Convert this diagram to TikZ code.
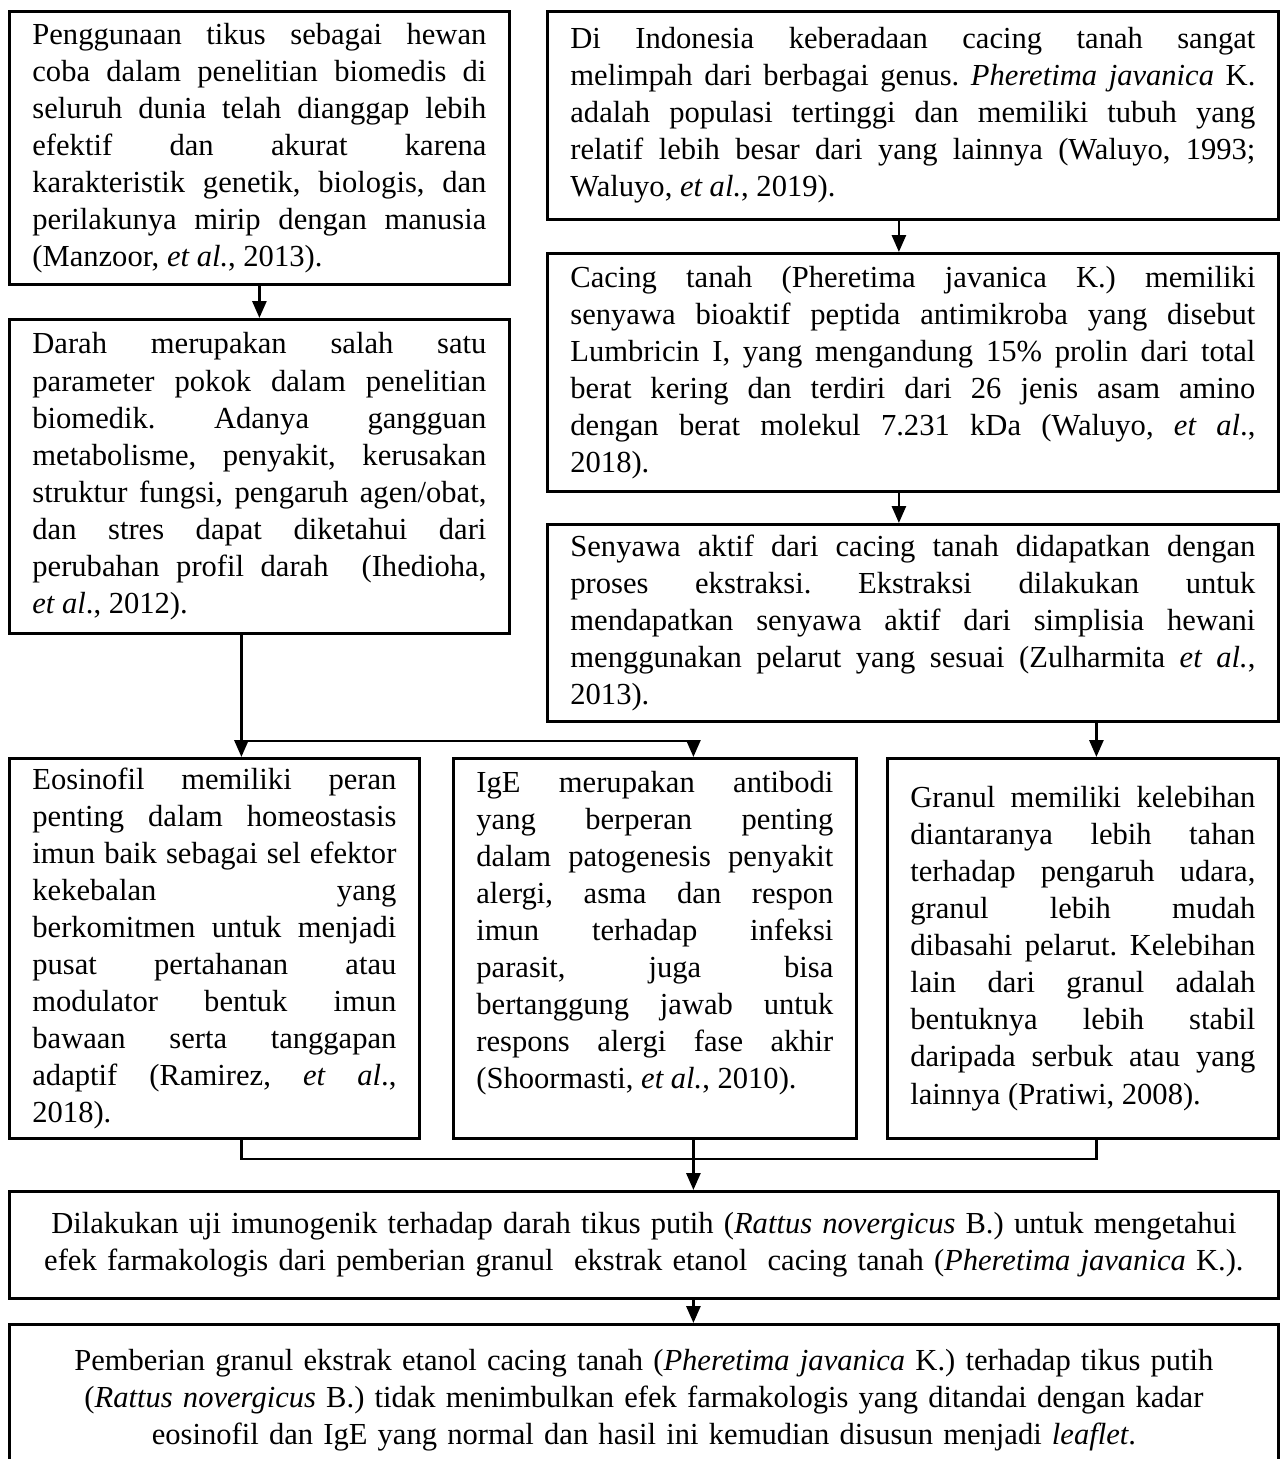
\documentclass[tikz,border=0pt]{standalone}
\usepackage{fontspec}
\setmainfont{Liberation Serif}
\usetikzlibrary{arrows.meta,calc}

\newcommand{\isi}{\fontsize{17.4}{21.1}\selectfont\frenchspacing\parindent=0pt\hyphenpenalty=10000\exhyphenpenalty=10000\tolerance=10000}

\begin{document}
\begin{tikzpicture}[
  kotak/.style={draw, line width=1.6pt, anchor=north west, inner xsep=0.46cm, inner ysep=0pt, align=justify, font=\isi},
  garis/.style={line width=1.6pt},
  panah/.style={garis, -{Triangle[length=0.34cm, width=0.28cm]}},
]
\clip (0,0) rectangle (25.66,-29.18);

% kolom kiri
\node[kotak, text width=9.08cm, minimum height=5.46cm] (tikus) at (0.16,-0.2) {Penggunaan tikus sebagai hewan\linebreak coba dalam penelitian biomedis di\linebreak seluruh dunia telah dianggap lebih\linebreak efektif dan akurat karena\linebreak karakteristik genetik, biologis, dan\linebreak perilakunya mirip dengan manusia\linebreak (Manzoor, \textit{et al.}, 2013).};
\node[kotak, text width=9.08cm, minimum height=6.28cm] (darah) at (0.16,-6.36) {Darah merupakan salah satu\linebreak parameter pokok dalam penelitian\linebreak biomedik. Adanya gangguan\linebreak metabolisme, penyakit, kerusakan\linebreak struktur fungsi, pengaruh agen/obat,\linebreak dan stres dapat diketahui dari\linebreak perubahan profil darah\ \ (Ihedioha,\linebreak \textit{et al}., 2012).};

% kolom kanan
\node[kotak, text width=13.7cm, minimum height=4.16cm] (indonesia) at (10.92,-0.2) {Di Indonesia keberadaan cacing tanah sangat\linebreak melimpah dari berbagai genus. \textit{Pheretima javanica} K.\linebreak adalah populasi tertinggi dan memiliki tubuh yang\linebreak relatif lebih besar dari yang lainnya (Waluyo, 1993;\linebreak Waluyo, \textit{et al.}, 2019).};
\node[kotak, text width=13.7cm, minimum height=4.76cm] (lumbricin) at (10.92,-5.04) {Cacing tanah (Pheretima javanica K.) memiliki\linebreak senyawa bioaktif peptida antimikroba yang disebut\linebreak Lumbricin I, yang mengandung 15\% prolin dari total\linebreak berat kering dan terdiri dari 26 jenis asam amino\linebreak dengan berat molekul 7.231 kDa (Waluyo, \textit{et al}.,\linebreak 2018).};
\node[kotak, text width=13.7cm, minimum height=3.94cm] (ekstraksi) at (10.92,-10.46) {Senyawa aktif dari cacing tanah didapatkan dengan\linebreak proses ekstraksi. Ekstraksi dilakukan untuk\linebreak mendapatkan senyawa aktif dari simplisia hewani\linebreak menggunakan pelarut yang sesuai (Zulharmita \textit{et al.},\linebreak 2013).};

% baris tengah
\node[kotak, text width=7.28cm, minimum height=7.6cm] (eosinofil) at (0.16,-15.14) {Eosinofil memiliki peran\linebreak penting dalam homeostasis\linebreak imun baik sebagai sel efektor\linebreak kekebalan yang\linebreak berkomitmen untuk menjadi\linebreak pusat pertahanan atau\linebreak modulator bentuk imun\linebreak bawaan serta tanggapan\linebreak adaptif (Ramirez, \textit{et al}.,\linebreak 2018).};
\node[kotak, text width=7.14cm, minimum height=7.6cm] (ige) at (9.04,-15.14) {IgE merupakan antibodi\linebreak yang berperan penting\linebreak dalam patogenesis penyakit\linebreak alergi, asma dan respon\linebreak imun terhadap infeksi\linebreak parasit, juga bisa\linebreak bertanggung jawab untuk\linebreak respons alergi fase akhir\linebreak (Shoormasti, \textit{et al.}, 2010).\par\mbox{}};
\node[kotak, text width=6.9cm, minimum height=7.6cm] (granul) at (17.72,-15.14) {Granul memiliki kelebihan\linebreak diantaranya lebih tahan\linebreak terhadap pengaruh udara,\linebreak granul lebih mudah\linebreak dibasahi pelarut. Kelebihan\linebreak lain dari granul adalah\linebreak bentuknya lebih stabil\linebreak daripada serbuk atau yang\linebreak lainnya (Pratiwi, 2008).};

% baris bawah
\node[kotak, align=center, text width=24.46cm, minimum height=2.14cm] (uji) at (0.16,-23.8) {Dilakukan uji imunogenik terhadap darah tikus putih (\textit{Rattus novergicus} B.) untuk mengetahui\\ efek farmakologis dari pemberian granul\ \ ekstrak etanol\ \ cacing tanah (\textit{Pheretima javanica} K.).};
\node[kotak, align=center, text width=24.46cm, inner ysep=0.5cm] (hasil) at (0.16,-26.46) {Pemberian granul ekstrak etanol cacing tanah (\textit{Pheretima javanica} K.) terhadap tikus putih\\ (\textit{Rattus novergicus} B.) tidak menimbulkan efek farmakologis yang ditandai dengan kadar\\ eosinofil dan IgE yang normal dan hasil ini kemudian disusun menjadi \textit{leaflet}.};

% panah
\draw[panah] (tikus) -- (darah);
\draw[panah] ([xshift=-0.28cm]indonesia.south) -- ([xshift=-0.28cm]lumbricin.north);
\draw[panah] ([xshift=-0.28cm]lumbricin.south) -- ([xshift=-0.28cm]ekstraksi.north);
\coordinate (cabang) at ([xshift=-0.36cm]darah.south |- 0,-14.82);
\draw[panah] ([xshift=-0.36cm]darah.south) -- ([xshift=-0.36cm]darah.south |- eosinofil.north);
\draw[panah] (cabang) -| ([xshift=0.77cm]ige.north);
\draw[panah] ([xshift=0.27cm]granul.north |- ekstraksi.south) -- ([xshift=0.27cm]granul.north);
\coordinate (gabung) at (0,-23.18);
\draw[garis] ([xshift=0.54cm]eosinofil.south) |- ([xshift=0.27cm]granul.south |- gabung) -- ([xshift=0.27cm]granul.south);
\draw[panah] ([xshift=0.77cm]ige.south) -- ([xshift=0.77cm]ige.south |- uji.north);
\draw[panah] ([xshift=0.77cm]ige.south |- uji.south) -- ([xshift=0.77cm]ige.south |- hasil.north);
\end{tikzpicture}
\end{document}
